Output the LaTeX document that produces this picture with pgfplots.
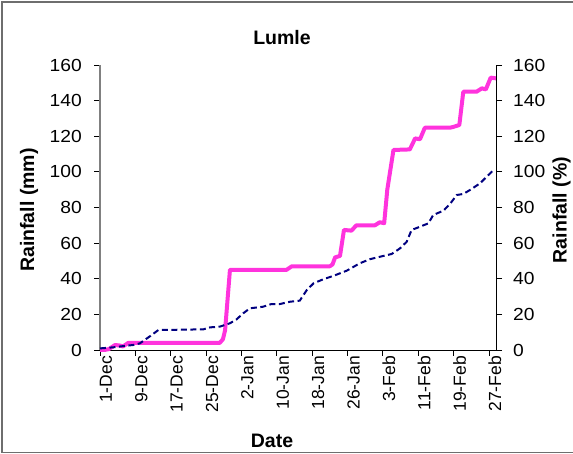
\documentclass[border=0pt]{standalone}
\usepackage{fontspec}
\setmainfont{Liberation Sans}
\newfontfamily\yfont{Liberation Sans}[FakeStretch=1.1]
\usepackage{pgfplots}
\pgfplotsset{compat=1.18}
\definecolor{pinkline}{RGB}{255,51,221}
\definecolor{navyline}{RGB}{0,0,128}
\begin{document}
\begin{tikzpicture}[x=1bp,y=1bp]
\useasboundingbox (0,0) rectangle (573,454);
\clip (0,0) rectangle (573,454);
\draw[draw={rgb,255:red,110;green,110;blue,110}, line width=1.4bp] (2,1.5) rectangle (600,452);
\pgfplotsset{
  base/.style={
    at={(100bp,104bp)}, anchor=south west,
    scale only axis, width=396bp, height=285bp,
    xmin=0, xmax=89.6, ymin=0, ymax=160,
    ytick={0,20,...,160},
    tick align=outside,
    major tick length=6bp,
    tick style={black, line width=0.8bp},
    /pgf/number format/assume math mode=true,
    xticklabel style={font=\fontsize{17.5bp}{19bp}\selectfont},
    yticklabel style={font=\yfont\fontsize{17.5bp}{19bp}\selectfont},
    clip=false,
  }
}
\begin{axis}[base,
  axis x line*=bottom, axis y line*=left,
  x axis line style={black, line width=0.9bp, -},
  y axis line style={draw={rgb,255:red,128;green,128;blue,128}, line width=1.6bp, -},
  xtick={0,8,...,88},
  xticklabels={1-Dec,9-Dec,17-Dec,25-Dec,2-Jan,10-Jan,18-Jan,26-Jan,3-Feb,11-Feb,19-Feb,27-Feb},
  xticklabel style={rotate=90, anchor=east, inner sep=0pt, xshift=0bp, yshift=-6bp},
  yticklabel style={anchor=east, inner sep=0pt, xshift=-12bp},
]
\addplot[pinkline, line width=4bp, line join=round] coordinates {
(0,0) (1,0) (2,0.5) (3.4,2.8) (4.5,2.5) (5.2,2) (6.4,4) (8,4) (27.1,4) (27.8,6)
(28.3,11) (29.4,45) (30,45) (42.2,45) (43.4,47) (52,47) (52.6,48) (53.2,52)
(54.3,52.8) (55.2,67.4) (56.9,67) (58,70) (62.2,70) (63.3,71.7) (64.3,71.2)
(65,90) (66.4,112.3) (70.1,112.6) (71.3,118.8) (72.4,118.3) (73.5,124.8)
(79.2,124.8) (79.9,125.2) (81.3,126.3) (82.2,145) (85.2,145) (86.4,146.9)
(87.3,146.3) (88.4,152.9) (89.6,152.5)
};
\end{axis}
\begin{axis}[base,
  axis y line*=right, axis x line=none,
  y axis line style={black, line width=0.9bp, -},
  yticklabel style={anchor=west, inner sep=0pt, xshift=11bp},
]
\addplot[navyline, line width=2bp, dash pattern=on 6bp off 3.5bp] coordinates {
(0,0.9) (3,1.5) (5.3,2.2) (7.5,2.8) (9,3.7) (11.7,8.4) (13.2,11.2) (23.4,11.6)
(24.9,12.7) (27.1,13.1) (29.4,15) (30.9,17.2) (32.4,20.6) (33.9,23.4) (36.9,24.3)
(38.8,25.8) (40.7,25.8) (43,27.1) (45.2,27.7) (46.8,33.7) (48.3,37.4) (50.5,39.7)
(52.8,41.6) (55.8,44.5) (58.8,48.7) (61.1,51) (64.1,52.8) (66,53.9) (67.9,57.1)
(69.4,60.8) (70.5,67.4) (72.4,69.2) (74.3,71.1) (75.4,75.8) (77.7,78.2) (79.2,82)
(80.7,87) (82.2,87.6) (83.7,89.8) (86,93.6) (87.5,97.3) (89,101)
};
\end{axis}
\node[font=\bfseries\fontsize{19.5bp}{21bp}\selectfont, anchor=base] at (282,409) {Lumle};
\node[font=\bfseries\fontsize{19.5bp}{21bp}\selectfont, anchor=base] at (272,6) {Date};
\node[font=\bfseries\fontsize{19.5bp}{21bp}\selectfont, anchor=base, rotate=90] at (34,244) {Rainfall (mm)};
\node[font=\bfseries\fontsize{19.5bp}{21bp}\selectfont, anchor=base, rotate=90, inner sep=0pt] at (566.5,244) {Rainfall (\%)};
\end{tikzpicture}
\end{document}
